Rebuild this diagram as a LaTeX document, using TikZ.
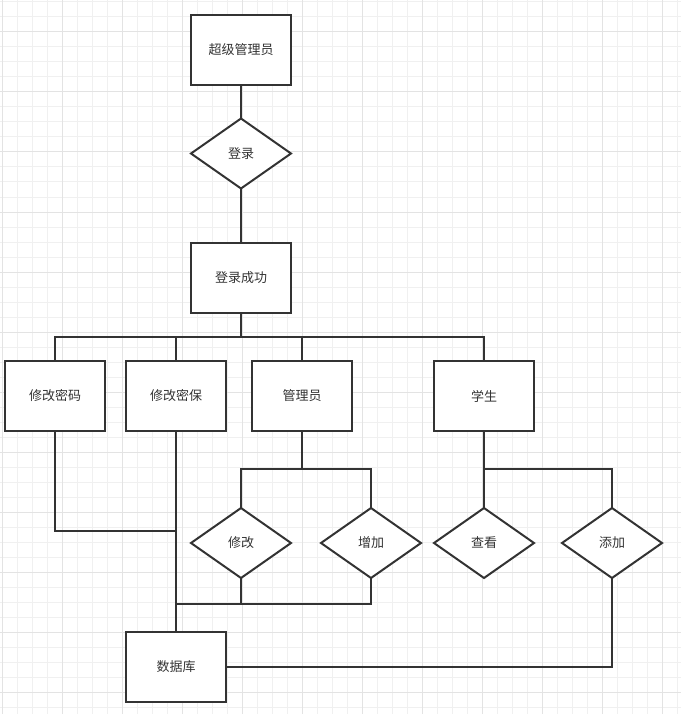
\documentclass[tikz,border=0pt]{standalone}
\usepackage{fontspec}
\newfontfamily\cjk{Noto Sans CJK SC}
\usetikzlibrary{shapes.geometric}
\definecolor{ln}{HTML}{333333}
\definecolor{minorg}{HTML}{F0F0F0}
\definecolor{majorg}{HTML}{E3E3E3}
\begin{document}
\begin{tikzpicture}[x=1pt,y=-1pt,
  box/.style={draw=ln,line width=2pt,fill=white,minimum width=100pt,minimum height=70pt,inner sep=0pt,outer sep=0pt,font=\cjk\fontsize{13}{15}\selectfont,text=ln},
  dia/.style={draw=ln,line width=2pt,fill=white,diamond,aspect=1.4286,minimum width=100pt,minimum height=70pt,inner sep=0pt,outer sep=0pt,font=\cjk\fontsize{13}{15}\selectfont,text=ln},
  conn/.style={draw=ln,line width=2pt}]
\useasboundingbox (0,0) rectangle (681,714);
\fill[white] (0,0) rectangle (681,714);
\foreach \x in {2,17,...,681} \draw[minorg,line width=1pt] (\x,0) -- (\x,714);
\foreach \y in {2,17,...,714} \draw[minorg,line width=1pt] (0,\y) -- (681,\y);
\foreach \x in {2,62,...,681} \draw[majorg,line width=1pt] (\x,0) -- (\x,714);
\foreach \y in {32,92,...,714} \draw[majorg,line width=1pt] (0,\y) -- (681,\y);
% nodes
\node[box] (top) at (241,50) {超级管理员};
\node[dia] (login) at (241,153.5) {登录};
\node[box] (ok) at (241,278) {登录成功};
\node[box] (mm) at (55,396) {修改密码};
\node[box] (ms) at (176,396) {修改密保};
\node[box] (gly) at (302,396) {管理员};
\node[box] (xs) at (484,396) {学生};
\node[dia] (xg) at (241,543) {修改};
\node[dia] (zj) at (371,543) {增加};
\node[dia] (ck) at (484,543) {查看};
\node[dia] (tj) at (612,543) {添加};
\node[box] (db) at (176,667) {数据库};
\coordinate (bus) at (241,337);
\coordinate (j1) at (176,531);
\coordinate (g1) at (302,469);
\coordinate (s1) at (484,469);
\coordinate (b1) at (176,604);
% connectors
\draw[conn] (top.south) -- (login.north);
\draw[conn] (login.south) -- (ok.north);
\draw[conn] (ok.south) -- (bus);
\draw[conn] (mm.north) -- (mm.north |- bus) -- (xs.north |- bus) -- (xs.north);
\draw[conn] (ms.north) -- (ms.north |- bus);
\draw[conn] (gly.north) -- (gly.north |- bus);
\draw[conn] (mm.south) |- (j1);
\draw[conn] (ms.south) -- (db.north);
\draw[conn] (gly.south) -- (g1);
\draw[conn] (xg.north) |- (g1) -| (zj.north);
\draw[conn] (xs.south) -- (ck.north);
\draw[conn] (s1) -| (tj.north);
\draw[conn] (xg.south) -- (xg.south |- b1);
\draw[conn] (b1) -| (zj.south);
\draw[conn] (tj.south) |- (db.east);
\end{tikzpicture}
\end{document}
